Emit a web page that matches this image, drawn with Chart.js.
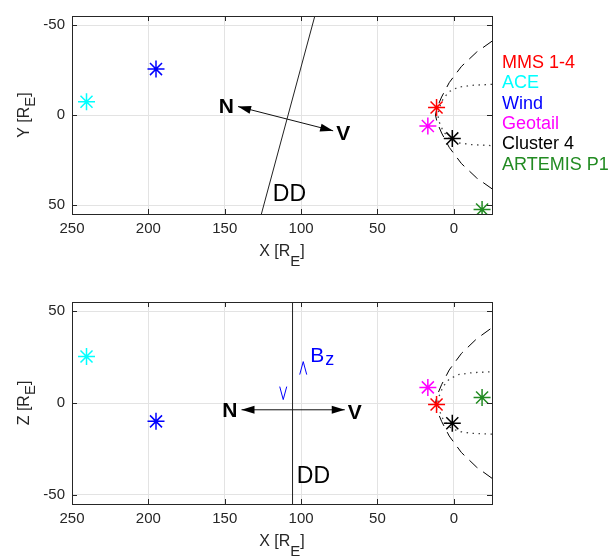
<!DOCTYPE html>
<html>
<head>
<meta charset="utf-8">
<script src="https://cdn.jsdelivr.net/npm/chart.js@4.4.0/dist/chart.umd.min.js"></script>
<style>
    html, body { margin: 0; padding: 0; background: #fff; }
    #wrap { position: relative; width: 608px; height: 558px; }
    .panel { position: absolute; left: 0; width: 608px; height: 279px; }
</style>
</head>
<body>
<div id="wrap">
    <div class="panel" style="top:0"><canvas id="xyChart" width="608" height="279"></canvas></div>
    <div class="panel" style="top:279px"><canvas id="xzChart" width="608" height="279"></canvas></div>
</div>
<script>
const FONT = "'Liberation Sans', Arial, Helvetica, sans-serif";
const AXIS_COLOR = '#262626';

// ticks
const xTicks = [250, 200, 150, 100, 50, 0];
const yTicks = [-50, 0, 50];
const zTicks = [-50, 0, 50];

// spacecraft positions [R_E]
const craftNames = ['MMS 1-4', 'ACE', 'Wind', 'Geotail', 'Cluster 4', 'ARTEMIS P1'];
const craftColors = ['#ff0000', '#00ffff', '#0000ff', '#ff00ff', '#000000', '#228b22'];
const craftX = [11.3, 240.5, 195, 17, 1, -18.5];
const craftY = [-4.2, -7.4, -25.5, 6.1, 13, 52.5];
const craftZ = [-0.8, 25.3, -10, 8.5, -11, 3];

// bow shock (dashed) and magnetopause (dotted)
const bowShockX = [-25, -15, -5, 3, 8, 11, 12, 11, 8, 3, -5, -15, -25];
const bowShockR = [-41, -35, -27, -18, -10, -4, 0, 4, 10, 18, 27, 35, 41];
const mpauseX = [-25, -12, -3, 3, 7, 9.5, 10.5, 9.5, 7, 3, -3, -12, -25];
const mpauseR = [-17, -16.5, -15.5, -13, -9, -4, 0, 4, 9, 13, 15.5, 16.5, 17];

// discontinuity plane traces
const ddXYx = [126, 91];
const ddXYy = [55, -55];
const ddXZx = [105.6, 105.6];
const ddXZz = [-55, 55];

// normal (N) / flow (V) arrow end points
const nvXYx = [141.3, 79];
const nvXYy = [-4.7, 8.8];
const nvXZx = [139, 71.4];
const nvXZz = [-3.7, -3.7];

// Bz before / after
const bzX = [111.7, 98.6];
const bzZ = [5.4, 19];

function toPts(xs, ys){
    return xs.map(function(x, i){ return {x: x, y: ys[i]}; });
}

function buildDatasets(posY, ddX, ddY, nvX, nvY){
    let sets = [];
    craftNames.forEach(function(name, i){
        sets.push({
            label: name,
            data: [{x: craftX[i], y: posY[i]}],
            pointStyle: 'star',
            pointRadius: 8.5,
            pointBorderWidth: 1.5,
            borderColor: craftColors[i],
            backgroundColor: craftColors[i],
            showLine: false
        });
    });
    sets.push({
        label: 'bow shock',
        data: toPts(bowShockX, bowShockR),
        showLine: true, pointRadius: 0,
        borderColor: '#000', borderWidth: 1,
        borderDash: [11, 7]
    });
    sets.push({
        label: 'magnetopause',
        data: toPts(mpauseX, mpauseR),
        showLine: true, pointRadius: 0,
        borderColor: '#444', borderWidth: 1.3,
        borderDash: [1.5, 4.5]
    });
    sets.push({
        label: 'DD',
        data: toPts(ddX, ddY),
        showLine: true, pointRadius: 0,
        borderColor: '#222', borderWidth: 1
    });
    sets.push({
        label: 'NV',
        data: toPts(nvX, nvY),
        showLine: true, pointRadius: 0,
        borderColor: '#111', borderWidth: 1
    });
    return sets;
}

function arrowHead(ctx, x0, y0, x1, y1){
    let a = Math.atan2(y1 - y0, x1 - x0);
    let len = 13, half = 4;
    let bx = x1 - len * Math.cos(a), by = y1 - len * Math.sin(a);
    ctx.beginPath();
    ctx.moveTo(x1, y1);
    ctx.lineTo(bx + half * Math.sin(a), by - half * Math.cos(a));
    ctx.lineTo(bx - half * Math.sin(a), by + half * Math.cos(a));
    ctx.closePath();
    ctx.fill();
}

function subLabel(ctx, x, y, main, sub, close, subDrop){
    ctx.font = '16px ' + FONT;
    let w1 = ctx.measureText(main).width;
    let w3 = ctx.measureText(close).width;
    ctx.font = '15px ' + FONT;
    let w2 = ctx.measureText(sub).width;
    let x0 = x - (w1 + w2 + w3) / 2;
    ctx.textAlign = 'left';
    ctx.textBaseline = 'alphabetic';
    ctx.font = '16px ' + FONT;
    ctx.fillText(main, x0, y);
    ctx.font = '15px ' + FONT;
    ctx.fillText(sub, x0 + w1, y + subDrop);
    ctx.font = '16px ' + FONT;
    ctx.fillText(close, x0 + w1 + w2, y);
}

function panelPlugin(cfg){
    return {
        id: 'panel_' + cfg.name,
        afterDraw(chart){
            let ctx = chart.ctx;
            let area = chart.chartArea;
            let xs = chart.scales.x, ys = chart.scales.y;
            ctx.save();

            // box + inner ticks
            ctx.strokeStyle = AXIS_COLOR;
            ctx.lineWidth = 1;
            ctx.strokeRect(area.left + 0.5, area.top + 0.5, area.right - area.left, area.bottom - area.top);
            ctx.beginPath();
            xTicks.forEach(function(v){
                let px = Math.round(xs.getPixelForValue(v)) + 0.5;
                ctx.moveTo(px, area.top); ctx.lineTo(px, area.top + 5);
                ctx.moveTo(px, area.bottom); ctx.lineTo(px, area.bottom - 5);
            });
            cfg.yTicks.forEach(function(v){
                let py = Math.round(ys.getPixelForValue(v)) + 0.5;
                ctx.moveTo(area.left, py); ctx.lineTo(area.left + 5, py);
                ctx.moveTo(area.right, py); ctx.lineTo(area.right - 5, py);
            });
            ctx.stroke();

            // N / V arrow heads and labels
            let nx = xs.getPixelForValue(cfg.nvX[0]), ny = ys.getPixelForValue(cfg.nvY[0]);
            let vx = xs.getPixelForValue(cfg.nvX[1]), vy = ys.getPixelForValue(cfg.nvY[1]);
            ctx.fillStyle = '#000';
            arrowHead(ctx, vx, vy, nx, ny);
            arrowHead(ctx, nx, ny, vx, vy);
            ctx.font = 'bold 21px ' + FONT;
            ctx.textBaseline = 'middle';
            ctx.textAlign = 'right';
            ctx.fillText('N', nx - 4, ny + 1);
            ctx.textAlign = 'left';
            ctx.fillText('V', vx + 3, vy + 3);

            // DD label
            ctx.font = '23px ' + FONT;
            ctx.textAlign = 'left';
            ctx.fillText('DD', xs.getPixelForValue(cfg.ddLabel[0]), ys.getPixelForValue(cfg.ddLabel[1]));

            // Bz glyphs
            if(cfg.bz){
                ctx.strokeStyle = '#0000ff';
                ctx.lineWidth = 1;
                let p0x = xs.getPixelForValue(bzX[0]), p0y = ys.getPixelForValue(bzZ[0]);
                let p1x = xs.getPixelForValue(bzX[1]), p1y = ys.getPixelForValue(bzZ[1]);
                ctx.beginPath();
                ctx.moveTo(p0x - 3.5, p0y - 6.5); ctx.lineTo(p0x, p0y + 6.5); ctx.lineTo(p0x + 3.5, p0y - 6.5);
                ctx.moveTo(p1x - 3.5, p1y + 6.5); ctx.lineTo(p1x, p1y - 6.5); ctx.lineTo(p1x + 3.5, p1y + 6.5);
                ctx.stroke();
                ctx.fillStyle = '#0000ff';
                ctx.textBaseline = 'alphabetic';
                ctx.font = '21px ' + FONT;
                ctx.fillText('B', p1x + 7, p1y - 6);
                let wb = ctx.measureText('B').width;
                ctx.font = '18px ' + FONT;
                ctx.fillText('z', p1x + 7 + wb + 1, p1y - 3);
            }

            // axis titles
            ctx.fillStyle = AXIS_COLOR;
            subLabel(ctx, (area.left + area.right) / 2, area.bottom + 42, 'X [R', 'E', ']', 10);
            ctx.save();
            ctx.translate(29, (area.top + area.bottom) / 2);
            ctx.rotate(-Math.PI / 2);
            subLabel(ctx, 0, 0, cfg.yName + ' [R', 'E', ']', 6);
            ctx.restore();

            // legend text
            if(cfg.legend){
                ctx.font = '18px ' + FONT;
                ctx.textAlign = 'left';
                ctx.textBaseline = 'alphabetic';
                craftNames.forEach(function(name, i){
                    ctx.fillStyle = craftColors[i];
                    ctx.fillText(name, 502, 68 + i * 20.3);
                });
            }
            ctx.restore();
        }
    };
}

function makeChart(canvasId, cfg){
    let ctx = document.getElementById(canvasId).getContext('2d');
    return new Chart(ctx, {
        type: 'scatter',
        data: {
            datasets: buildDatasets(cfg.posY, cfg.ddX, cfg.ddY, cfg.nvX, cfg.nvY)
        },
        options: {
            responsive: false,
            animation: false,
            layout: {
                padding: { left: 0, right: 116, top: cfg.padTop, bottom: 0 }
            },
            plugins: {
                legend: { display: false },
                tooltip: { enabled: false },
                title: { display: false }
            },
            scales: {
                x: {
                    type: 'linear',
                    min: -25, max: 250,
                    reverse: true,
                    afterBuildTicks(scale){
                        scale.ticks = xTicks.map(function(v){ return {value: v}; });
                    },
                    afterFit(scale){
                        scale.height = cfg.xHeight;
                    },
                    grid: { color: '#e3e3e3', lineWidth: 1, drawTicks: false },
                    border: { display: false },
                    ticks: {
                        color: AXIS_COLOR,
                        padding: 6,
                        maxRotation: 0,
                        font: { family: FONT, size: 15 }
                    }
                },
                y: {
                    type: 'linear',
                    min: -55, max: 55,
                    reverse: cfg.reverseY,
                    afterBuildTicks(scale){
                        scale.ticks = cfg.yTicks.map(function(v){ return {value: v}; });
                    },
                    afterFit(scale){
                        scale.width = 72;
                    },
                    grid: { color: '#e3e3e3', lineWidth: 1, drawTicks: false },
                    border: { display: false },
                    ticks: {
                        color: AXIS_COLOR,
                        padding: 7,
                        font: { family: FONT, size: 15 }
                    }
                }
            }
        },
        plugins: [panelPlugin(cfg)]
    });
}

makeChart('xyChart', {
    name: 'xy', posY: craftY, ddX: ddXYx, ddY: ddXYy, nvX: nvXYx, nvY: nvXYy,
    yTicks: yTicks, reverseY: true, padTop: 10, xHeight: 65,
    yName: 'Y', ddLabel: [118.5, 44.3], bz: false, legend: true
});

makeChart('xzChart', {
    name: 'xz', posY: craftZ, ddX: ddXZx, ddY: ddXZz, nvX: nvXZx, nvY: nvXZz,
    yTicks: zTicks, reverseY: false, padTop: 23, xHeight: 54,
    yName: 'Z', ddLabel: [102.8, -40.3], bz: true, legend: false
});
</script>
</body>
</html>
